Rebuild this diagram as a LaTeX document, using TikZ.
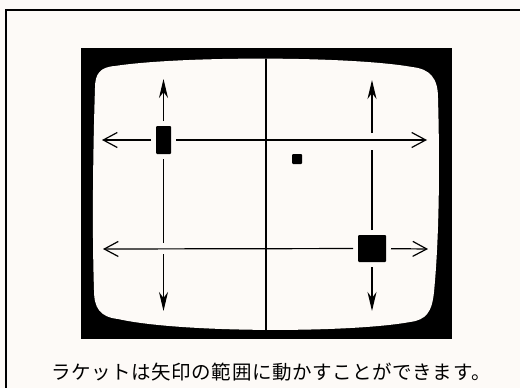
\documentclass[tikz,border=0pt]{standalone}
\usepackage{fontspec}
\newfontfamily\cjk[LetterSpace=3]{Noto Sans CJK JP}
\usetikzlibrary{arrows.meta}
\definecolor{paper}{RGB}{253,250,247}
\newcommand\scrpath{(95,88) .. controls (95,74) and (100,67) .. (115,66) .. controls (180,56) and (350,56) .. (412,67) .. controls (430,69) and (438,78) .. (438,98) .. controls (440,170) and (439,240) .. (434,292) .. controls (432,312) and (426,320) .. (410,322) .. controls (350,333) and (180,333) .. (118,319) .. controls (100,317) and (94,308) .. (94,290) .. controls (92,230) and (93,150) .. (95,88) -- cycle}
\begin{document}
\begin{tikzpicture}[x=1pt,y=-1pt,
  paddle/.style={fill=black, draw=none, inner sep=0pt, rounded corners=1pt, outer sep=5pt},
  ln/.style={line width=1.2pt},
  hhead/.style={-{Straight Barb[length=14pt,width=15pt,line width=1.2pt]}},
  vhead/.style={-{Stealth[length=19pt,width=9pt,inset=6pt]}},
  caption/.style={inner sep=0pt, font=\cjk\fontsize{19.5}{22}\selectfont}]
\useasboundingbox (0,0) rectangle (520,388);
\fill[paper] (0,0) rectangle (520,388);
% outer border
\draw[line width=1.6pt] (6,390) -- (6,10) -- (522,10);
% frame and screen
\fill[black] (81,48) rectangle (452,339);
\fill[paper] \scrpath;
\begin{scope}
  \clip \scrpath;
  \draw[line width=2.8pt] (266,45) -- (266,342);
\end{scope}
% paddles and ball
\node[paddle, minimum width=15pt, minimum height=28pt] (p1) at (163.5,140) {};
\node[paddle, minimum width=28pt, minimum height=27pt] (p2) at (372,248.5) {};
\node[fill=black, inner sep=0pt, minimum size=10pt, rounded corners=1pt] (ball) at (297,159) {};
% arrow ends
\coordinate (l1) at (102,140);
\coordinate (r1) at (427,140);
\coordinate (u1) at (163.5,79);
\coordinate (d1a) at (163.5,243);
\coordinate (d1b) at (163.5,254);
\coordinate (d1) at (163.5,311);
\coordinate (l2) at (103,249);
\coordinate (r2) at (428,249);
\coordinate (u2) at (372,80);
\coordinate (u2a) at (372,133);
\coordinate (u2b) at (372,150);
\coordinate (d2) at (372,311);
% arrows of paddle 1
\draw[ln,hhead] (p1) -- (l1);
\draw[ln,hhead] (p1) -- (r1);
\draw[ln,vhead] (p1) -- (u1);
\draw[ln] (p1) -- (d1a);
\draw[ln,vhead] (d1b) -- (d1);
% arrows of paddle 2
\draw[ln,hhead] (p2) -- (l2);
\draw[ln,hhead] (p2) -- (r2);
\draw[ln,vhead] (u2a) -- (u2);
\draw[ln] (p2) -- (u2b);
\draw[ln,vhead] (p2) -- (d2);
% caption
\node[caption] (cap) at (271,372) {ラケットは矢印の範囲に動かすことができます。};
\end{tikzpicture}
\end{document}
